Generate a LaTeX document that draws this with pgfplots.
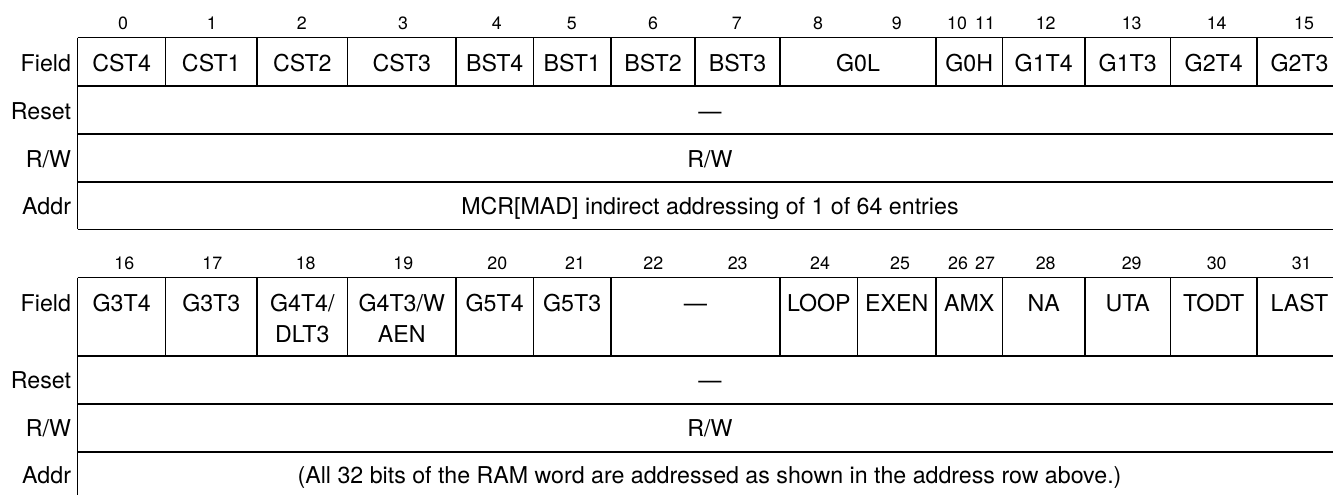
\documentclass[border=0pt]{standalone}
\usepackage{pgfplots}
\pgfplotsset{compat=1.18}
\usepackage{fontspec}
\setmainfont{TeX Gyre Heros}
\tikzset{
  B/.style={anchor=base,inner sep=0pt,outer sep=0pt,font=\fontsize{8.9}{10}\selectfont},
  C/.style={anchor=base,inner sep=0pt,outer sep=0pt,font=\fontsize{11.6}{14}\selectfont},
  L/.style={anchor=base east,inner sep=0pt,outer sep=0pt,font=\fontsize{11.6}{14}\selectfont}}
\begin{document}
\begin{tikzpicture}
\useasboundingbox (0,0) rectangle (666.5pt,247.5pt);
\begin{axis}[at={(0,0)},anchor=south west,scale only axis,
  width=666.5pt,height=247.5pt,xmin=0,xmax=1333,ymin=0,ymax=495,
  y dir=reverse,hide axis,clip=true,unbounded coords=jump]
% ---------- top table: horizontal rules
\addplot[black,line width=0.75pt,mark=none] coordinates {
 (77.7,37.7) (1333,37.7) (1333,nan)
 (77.7,86) (1333,86) (1333,nan)
 (77.7,134) (1333,134) (1333,nan)
 (77.7,182) (1333,182) (1333,nan)
 (77.7,229.3) (1333,229.3) (1333,nan)
 (77.7,37.7) (77.7,229.3)
};
% top table: field dividers
\addplot[black,line width=0.75pt,mark=none] coordinates {
 (165.7,37.7) (165.7,86) (165.7,nan)
 (257,37.7) (257,86) (257,nan)
 (347.7,37.7) (347.7,86) (347.7,nan)
 (456,37.7) (456,86) (456,nan)
 (533.3,37.7) (533.3,86) (533.3,nan)
 (611,37.7) (611,86) (611,nan)
 (695,37.7) (695,86) (695,nan)
 (780,37.7) (780,86) (780,nan)
 (936,37.7) (936,86) (936,nan)
 (1002.3,37.7) (1002.3,86) (1002.3,nan)
 (1085,37.7) (1085,86) (1085,nan)
 (1170.3,37.7) (1170.3,86) (1170.3,nan)
 (1257,37.7) (1257,86)
};
% ---------- bottom table: horizontal rules
\addplot[black,line width=0.75pt,mark=none] coordinates {
 (77.7,277.7) (1333,277.7) (1333,nan)
 (77.7,356) (1333,356) (1333,nan)
 (77.7,404) (1333,404) (1333,nan)
 (77.7,452) (1333,452) (1333,nan)
 (77.7,277.7) (77.7,495)
};
% bottom table: field dividers
\addplot[black,line width=0.75pt,mark=none] coordinates {
 (165.7,277.7) (165.7,356) (165.7,nan)
 (257,277.7) (257,356) (257,nan)
 (347.7,277.7) (347.7,356) (347.7,nan)
 (456,277.7) (456,356) (456,nan)
 (533.3,277.7) (533.3,356) (533.3,nan)
 (611,277.7) (611,356) (611,nan)
 (780,277.7) (780,356) (780,nan)
 (857.7,277.7) (857.7,356) (857.7,nan)
 (936,277.7) (936,356) (936,nan)
 (1002.3,277.7) (1002.3,356) (1002.3,nan)
 (1085,277.7) (1085,356) (1085,nan)
 (1170.3,277.7) (1170.3,356) (1170.3,nan)
 (1257,277.7) (1257,356)
};
% ---------- top bit numbers
\node[B] at (axis cs:123,29.3) {0};
\node[B] at (axis cs:211.7,29.3) {1};
\node[B] at (axis cs:301.7,29.3) {2};
\node[B] at (axis cs:403,29.3) {3};
\node[B] at (axis cs:496.7,29.3) {4};
\node[B] at (axis cs:571.7,29.3) {5};
\node[B] at (axis cs:653,29.3) {6};
\node[B] at (axis cs:736.7,29.3) {7};
\node[B] at (axis cs:818,29.3) {8};
\node[B] at (axis cs:896.7,29.3) {9};
\node[B] at (axis cs:957,29.3) {10};
\node[B] at (axis cs:985,29.3) {11};
\node[B] at (axis cs:1045.7,29.3) {12};
\node[B] at (axis cs:1131.7,29.3) {13};
\node[B] at (axis cs:1216.7,29.3) {14};
\node[B] at (axis cs:1304,29.3) {15};
% ---------- top row labels
\node[L] at (axis cs:71,71.3) {Field};
\node[L] at (axis cs:71,119.3) {Reset};
\node[L] at (axis cs:71,167.3) {R/W};
\node[L] at (axis cs:71,214.8) {Addr};
% ---------- top fields
\node[C] at (axis cs:121.7,71.3) {CST4};
\node[C] at (axis cs:211.3,71.3) {CST1};
\node[C] at (axis cs:302.3,71.3) {CST2};
\node[C] at (axis cs:401.8,71.3) {CST3};
\node[C] at (axis cs:494.7,71.3) {BST4};
\node[C] at (axis cs:572.2,71.3) {BST1};
\node[C] at (axis cs:653,71.3) {BST2};
\node[C] at (axis cs:737.5,71.3) {BST3};
\node[C] at (axis cs:858,71.3) {G0L};
\node[C] at (axis cs:969.2,71.3) {G0H};
\node[C] at (axis cs:1043.7,71.3) {G1T4};
\node[C] at (axis cs:1127.7,71.3) {G1T3};
\node[C] at (axis cs:1213.7,71.3) {G2T4};
\node[C] at (axis cs:1299.5,71.3) {G2T3};
\node[C] at (axis cs:710,119.3) {—};
\node[C] at (axis cs:710,167.3) {R/W};
\node[C] at (axis cs:710,214.8) {MCR[MAD] indirect addressing of 1 of 64 entries};
% ---------- bottom bit numbers
\node[B] at (axis cs:124.3,269) {16};
\node[B] at (axis cs:212.3,269) {17};
\node[B] at (axis cs:305.7,269) {18};
\node[B] at (axis cs:403.3,269) {19};
\node[B] at (axis cs:497.3,269) {20};
\node[B] at (axis cs:575,269) {21};
\node[B] at (axis cs:653.3,269) {22};
\node[B] at (axis cs:737.7,269) {23};
\node[B] at (axis cs:820,269) {24};
\node[B] at (axis cs:900,269) {25};
\node[B] at (axis cs:958,269) {26};
\node[B] at (axis cs:985,269) {27};
\node[B] at (axis cs:1045.7,269) {28};
\node[B] at (axis cs:1131.7,269) {29};
\node[B] at (axis cs:1216.7,269) {30};
\node[B] at (axis cs:1301.7,269) {31};
% ---------- bottom row labels
\node[L] at (axis cs:71,311.7) {Field};
\node[L] at (axis cs:71,388.3) {Reset};
\node[L] at (axis cs:71,436.7) {R/W};
\node[L] at (axis cs:71,483) {Addr};
% ---------- bottom fields
\node[C] at (axis cs:121.7,311.7) {G3T4};
\node[C] at (axis cs:211.3,311.7) {G3T3};
\node[C] at (axis cs:302.3,311.7) {G4T4/};
\node[C] at (axis cs:302.3,342) {DLT3};
\node[C] at (axis cs:401.8,311.7) {G4T3/W};
\node[C] at (axis cs:401.8,342) {AEN};
\node[C] at (axis cs:494.7,311.7) {G5T4};
\node[C] at (axis cs:572.2,311.7) {G5T3};
\node[C] at (axis cs:695.5,311.7) {—};
\node[C] at (axis cs:818.8,311.7) {LOOP};
\node[C] at (axis cs:896.8,311.7) {EXEN};
\node[C] at (axis cs:969.2,311.7) {AMX};
\node[C] at (axis cs:1043.7,311.7) {NA};
\node[C] at (axis cs:1127.7,311.7) {UTA};
\node[C] at (axis cs:1213.7,311.7) {TODT};
\node[C] at (axis cs:1299.5,311.7) {LAST};
\node[C] at (axis cs:710,388.3) {—};
\node[C] at (axis cs:710,436.7) {R/W};
\node[C] at (axis cs:709.5,483) {(All 32 bits of the RAM word are addressed as shown in the address row above.)};
\end{axis}
\end{tikzpicture}
\end{document}
